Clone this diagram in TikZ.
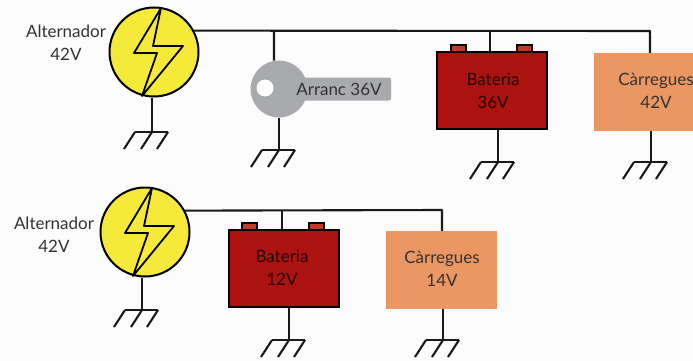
\documentclass[tikz,border=0pt]{standalone}
\usepackage{fontspec}
\setmainfont{Lato}
\usepackage{tikz}
\usetikzlibrary{positioning,calc}
\definecolor{alterngroc}{HTML}{F5EA3A}
\definecolor{bateriavermell}{HTML}{AB1210}
\definecolor{bornvermell}{HTML}{C23A2A}
\definecolor{carregataronja}{HTML}{EA9763}
\definecolor{claugris}{HTML}{A9AAAE}
\definecolor{textfosc}{HTML}{333333}
\tikzset{
  wire/.style={line width=2.1pt,black!90},
  rotul/.style={font=\fontsize{17}{23}\selectfont,align=center,text=textfosc,inner sep=0pt},
  alternador/.style={circle,draw=black,line width=2pt,fill=alterngroc,minimum size=89pt,inner sep=0pt},
  bateria/.style={rectangle,draw=black,line width=2pt,fill=bateriavermell,minimum width=110pt,minimum height=77pt,inner sep=0pt},
  born/.style={rectangle,draw=black,line width=1.5pt,fill=bornvermell,minimum width=15pt,minimum height=7pt,inner sep=0pt},
  carrega/.style={rectangle,fill=carregataronja,minimum height=78pt,inner sep=0pt},
  gnd/.pic={
    \draw[wire] (-17,0) -- (16,0);
    \foreach \dx in {-17,0,16} {
      \draw[wire] (\dx,0) -- (\dx-11,17);
    }
  }
}
\begin{document}
\begin{tikzpicture}[x=1pt,y=-1pt]
\useasboundingbox[fill=white!99!black] (0,0) rectangle (693,361);
% Alternators with their bolts
\foreach \nom/\x/\y in {altA/154/52,altB/145/232} {
  \node[alternador] (\nom) at (\x,\y) {};
  \draw[line width=1.8pt,line join=round] ($(\nom)+(7,-44)$) -- ($(\nom)+(-20,1)$) -- ($(\nom)+(3,1)$)
    -- ($(\nom)+(-12,44)$) -- ($(\nom)+(29,-6)$) -- ($(\nom)+(-1,-6)$) -- cycle;
}
\node[rotul] (labelA) at (66,43) {Alternador\\42V};
\node[rotul] (labelB) at (54,235) {Alternador\\42V};
% Starter key
\node[rectangle,rounded corners=2pt,fill=claugris,minimum width=92pt,minimum height=23pt,inner sep=0pt] (mango) at (345,89) {};
\node[circle,fill=claugris,minimum size=57pt,inner sep=0pt] (clau) at (279,89) {};
\node[circle,fill=white,minimum size=17pt,inner sep=0pt] (forat) at (265,88) {};
\node[rotul] (arranc) at (339,89) {Arranc 36V};
% Batteries
\node[bateria] (batA) at (492,90.5) {};
\node[bateria] (batB) at (283.5,268.5) {};
\node[rotul,text=black!80!bateriavermell] at (493,91) {Bateria\\36V};
\node[rotul,text=black!80!bateriavermell] at (282,267.5) {Bateria\\12V};
\foreach \x/\y/\nom in {458.5/48.5/a,524.5/48.5/b,249.5/226.5/c,316.5/226.5/d} {
  \node[born] (born\nom) at (\x,\y) {};
}
% Loads
\node[carrega,minimum width=124pt] (cargA) at (656,92) {};
\node[carrega,minimum width=111pt] (cargB) at (441.5,270) {};
\node[rotul] at (656,91) {Càrregues\\42V};
\node[rotul] at (442,269) {Càrregues\\14V};
% Supply lines
\coordinate (busA) at (650,31);
\coordinate (tapK) at (274,31);
\coordinate (tapA) at (490,31);
\coordinate (busB) at (442,210);
\coordinate (tapB) at (282,210);
\draw[wire,line join=round] (altA.28) -- (busA) -- (busA |- cargA.north);
\draw[wire] (tapK) -- (clau.100);
\draw[wire] (tapA) -- (tapA |- batA.north);
\draw[wire,line join=round] (altB.28) -- (busB) -- (busB |- cargB.north);
\draw[wire] (tapB) -- (tapB |- batB.north);
% Ground symbols
\foreach \de/\x/\y in {altA/152/132,clau/279/150,batA/498/162,cargA/651/162,altB/142/310,batB/289/340,cargB/443/340} {
  \coordinate (g\de) at (\x,\y);
  \draw[wire] (g\de |- \de.south) -- (g\de);
  \pic at (g\de) {gnd};
}
\end{tikzpicture}
\end{document}
